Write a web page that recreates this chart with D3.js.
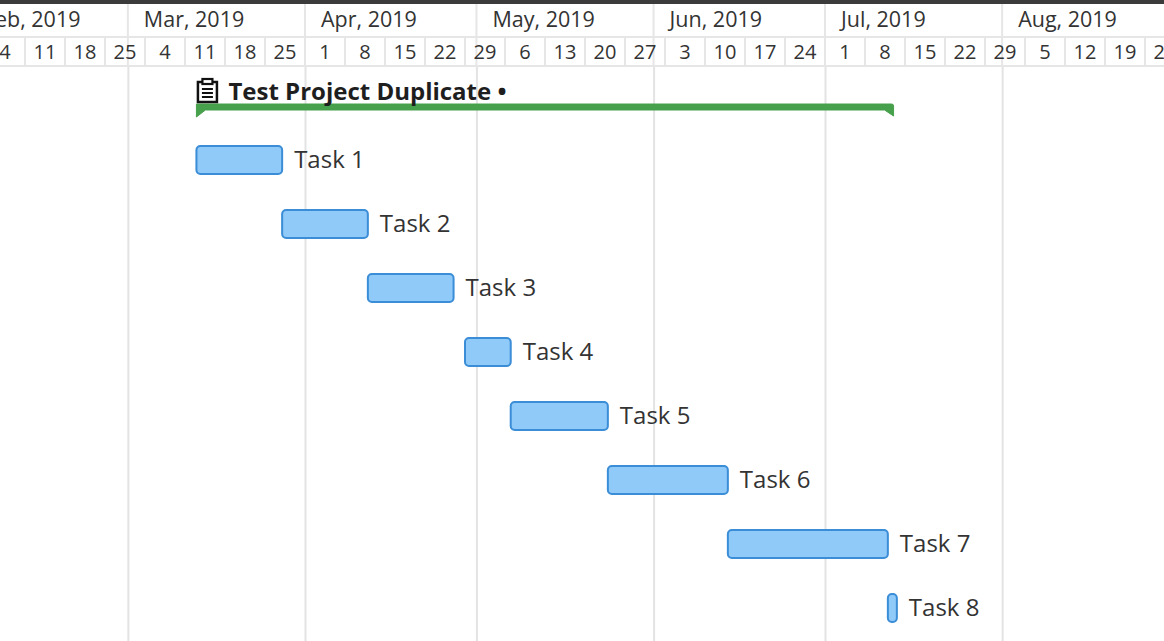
<!DOCTYPE html>
<html>
<head>
<meta charset="utf-8">
<script src="https://cdn.jsdelivr.net/npm/d3@7"></script>
<style>
  html, body { margin: 0; padding: 0; background: #fff; }
  svg { display: block; font-family: "Open Sans", sans-serif; }
</style>
</head>
<body>
<svg id="gantt"></svg>
<script>
// ---- data ----
const projectName = "Test Project Duplicate •";
const projectStart = "2019-03-13";
const projectEnd = "2019-07-13";

const taskNames = ["Task 1", "Task 2", "Task 3", "Task 4", "Task 5", "Task 6", "Task 7", "Task 8"];
const taskStarts = ["2019-03-13", "2019-03-28", "2019-04-12", "2019-04-29", "2019-05-07", "2019-05-24", "2019-06-14", "2019-07-12"];
const taskEnds = ["2019-03-28", "2019-04-12", "2019-04-27", "2019-05-07", "2019-05-24", "2019-06-14", "2019-07-12", "2019-07-13"];

const timelineFrom = "2019-01-28";
const timelineTo = "2019-09-02";

// ---- setup ----
const width = 1164, height = 641;
const headerTop = 4, monthRowBottom = 37, headerBottom = 66;
const parse = d3.utcParse("%Y-%m-%d");

const svg = d3.select("#gantt")
    .attr("width", width)
    .attr("height", height);

// 40px per week, Apr 1 sits at x=305
const x = d3.scaleUtc()
    .domain([parse("2019-04-01"), parse("2019-08-26")])
    .range([305, 305 + 21 * 40]);

const rows = [projectName].concat(taskNames);
const y = d3.scalePoint()
    .domain(rows)
    .range([96, 608]);

const months = d3.utcMonth.range(parse("2019-01-01"), parse(timelineTo));
const weeks = d3.utcMonday.range(parse(timelineFrom), parse(timelineTo));

// ---- body grid (month lines) ----
const gridAxis = d3.axisTop(x)
    .tickValues(months)
    .tickSize(-(height - headerBottom))
    .tickFormat("");

svg.append("g")
    .attr("class", "grid")
    .attr("transform", `translate(0,${headerBottom})`)
    .call(gridAxis)
    .call(g => g.select(".domain").remove())
    .call(g => g.selectAll("line").attr("stroke", "#e3e3e3").attr("stroke-width", 2));

// ---- header ----
const header = svg.append("g");

header.append("rect")
    .attr("x", 0).attr("y", 0)
    .attr("width", width).attr("height", headerTop)
    .attr("fill", "#3b3b3b");

header.selectAll(".week-line")
    .data(weeks)
    .join("line")
      .attr("class", "week-line")
      .attr("x1", d => x(d)).attr("x2", d => x(d))
      .attr("y1", monthRowBottom).attr("y2", headerBottom)
      .attr("stroke", "#e6e6e6")
      .attr("stroke-width", 2);

header.selectAll(".month-line")
    .data(months)
    .join("line")
      .attr("class", "month-line")
      .attr("x1", d => x(d)).attr("x2", d => x(d))
      .attr("y1", headerTop).attr("y2", headerBottom)
      .attr("stroke", "#e6e6e6")
      .attr("stroke-width", 2);

header.selectAll(".h-line")
    .data([monthRowBottom, headerBottom])
    .join("line")
      .attr("class", "h-line")
      .attr("x1", 0).attr("x2", width)
      .attr("y1", d => d).attr("y2", d => d)
      .attr("stroke", "#e6e6e6")
      .attr("stroke-width", 2);

header.selectAll(".month-label")
    .data(months)
    .join("text")
      .attr("class", "month-label")
      .attr("x", d => x(d) + 16)
      .attr("y", 27)
      .attr("font-size", 21.5)
      .attr("fill", "#333")
      .text(d3.utcFormat("%b, %Y"));

header.selectAll(".week-label")
    .data(weeks)
    .join("text")
      .attr("class", "week-label")
      .attr("x", d => (x(d) + x(d3.utcDay.offset(d, 7))) / 2)
      .attr("y", 59)
      .attr("text-anchor", "middle")
      .attr("font-size", 20)
      .attr("fill", "#333")
      .text(d3.utcFormat("%-d"));

// ---- project summary row ----
const px0 = x(parse(projectStart)), px1 = x(parse(projectEnd));
const py = y(projectName);
const proj = svg.append("g");

proj.append("path")
    .attr("d", `M${px0},${py + 8} H${px1 - 2} Q${px1},${py + 8} ${px1},${py + 10} V${py + 20}
                L${px1 - 9},${py + 14} H${px0 + 9} L${px0},${py + 21} Z`)
    .attr("fill", "#47a04b")
    .attr("stroke", "#47a04b")
    .attr("stroke-width", 1)
    .attr("stroke-linejoin", "round");

// clipboard icon
const icon = proj.append("g")
    .attr("transform", `translate(${px0},${py - 18})`);
icon.append("rect")
    .attr("x", 1.5).attr("y", 4)
    .attr("width", 19).attr("height", 20)
    .attr("fill", "none")
    .attr("stroke", "#111")
    .attr("stroke-width", 2.5);
icon.append("rect")
    .attr("x", 6).attr("y", 1)
    .attr("width", 10).attr("height", 5)
    .attr("fill", "#fff")
    .attr("stroke", "#111")
    .attr("stroke-width", 2.2);
icon.selectAll(".icon-line")
    .data([11, 15, 19])
    .join("line")
      .attr("class", "icon-line")
      .attr("x1", 5.5).attr("x2", 16.5)
      .attr("y1", d => d).attr("y2", d => d)
      .attr("stroke", "#111")
      .attr("stroke-width", 2);

proj.append("text")
    .attr("x", px0 + 32)
    .attr("y", py + 4)
    .attr("font-size", 24)
    .attr("font-weight", "bold")
    .attr("fill", "#1e1e1e")
    .text(projectName);

// ---- task bars ----
const minBarWidth = 9;
const tasks = taskNames.map((name, i) => ({
  name: name,
  start: parse(taskStarts[i]),
  end: parse(taskEnds[i])
}));

const barH = 28;
const bar = svg.append("g").selectAll("g.task")
    .data(tasks)
    .join("g")
      .attr("class", "task");

bar.append("rect")
    .attr("x", d => x(d.start))
    .attr("y", d => y(d.name) - barH / 2)
    .attr("width", d => Math.max(minBarWidth, x(d.end) - x(d.start)))
    .attr("height", barH)
    .attr("rx", 4)
    .attr("fill", "#90caf9")
    .attr("stroke", "#3a8dd6")
    .attr("stroke-width", 2);

bar.append("text")
    .attr("x", d => x(d.start) + Math.max(minBarWidth, x(d.end) - x(d.start)) + 12)
    .attr("y", d => y(d.name))
    .attr("dy", "0.35em")
    .attr("font-size", 24)
    .attr("fill", "#333")
    .text(d => d.name);
</script>
</body>
</html>
